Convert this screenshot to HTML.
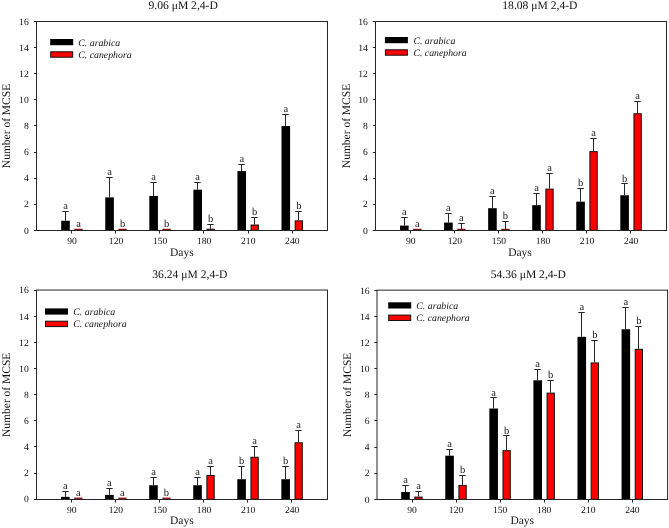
<!DOCTYPE html>
<html><head><meta charset="utf-8"><style>
html,body{margin:0;padding:0;background:#fff;}
svg{display:block;will-change:transform;}
text{font-family:"Liberation Serif", serif;fill:#111;text-rendering:geometricPrecision;}
</style></head><body>
<svg width="669" height="528" viewBox="0 0 669 528">
<rect width="669" height="528" fill="#fff"/>
<rect x="61.20" y="220.74" width="8.6" height="9.66" fill="#000"/>
<path d="M65.50 220.74V211.50M62.30 211.50H68.70" stroke="#262626" stroke-width="1" fill="none"/>
<text x="65.50" y="209.45" font-size="10.5" text-anchor="middle">a</text>
<rect x="74.35" y="228.80" width="8.3" height="1.3" fill="#8a0000"/>
<text x="78.50" y="227.35" font-size="10.5" text-anchor="middle">a</text>
<rect x="105.26" y="197.36" width="8.6" height="33.04" fill="#000"/>
<path d="M109.50 197.36V177.50M106.30 177.50H112.70" stroke="#262626" stroke-width="1" fill="none"/>
<text x="109.56" y="175.11" font-size="10.5" text-anchor="middle">a</text>
<rect x="118.41" y="228.80" width="8.3" height="1.3" fill="#8a0000"/>
<text x="122.56" y="227.35" font-size="10.5" text-anchor="middle">b</text>
<rect x="149.32" y="195.92" width="8.6" height="34.48" fill="#000"/>
<path d="M153.50 195.92V182.50M150.30 182.50H156.70" stroke="#262626" stroke-width="1" fill="none"/>
<text x="153.62" y="179.68" font-size="10.5" text-anchor="middle">a</text>
<rect x="162.47" y="228.80" width="8.3" height="1.3" fill="#8a0000"/>
<text x="166.62" y="227.35" font-size="10.5" text-anchor="middle">b</text>
<rect x="193.38" y="189.65" width="8.6" height="40.75" fill="#000"/>
<path d="M197.50 189.65V182.50M194.30 182.50H200.70" stroke="#262626" stroke-width="1" fill="none"/>
<text x="197.68" y="180.46" font-size="10.5" text-anchor="middle">a</text>
<rect x="207.03" y="229.20" width="7.300000000000001" height="1.20" fill="#f00" stroke="#111" stroke-width="1"/>
<path d="M210.50 228.70V224.50M207.30 224.50H213.70" stroke="#262626" stroke-width="1" fill="none"/>
<text x="210.68" y="221.86" font-size="10.5" text-anchor="middle">b</text>
<rect x="237.44" y="171.11" width="8.6" height="59.29" fill="#000"/>
<path d="M241.50 171.11V164.50M238.30 164.50H244.70" stroke="#262626" stroke-width="1" fill="none"/>
<text x="241.74" y="162.05" font-size="10.5" text-anchor="middle">a</text>
<rect x="251.09" y="225.02" width="7.300000000000001" height="5.38" fill="#f00" stroke="#111" stroke-width="1"/>
<path d="M254.50 224.52V217.50M251.30 217.50H257.70" stroke="#262626" stroke-width="1" fill="none"/>
<text x="254.74" y="214.94" font-size="10.5" text-anchor="middle">b</text>
<rect x="281.50" y="126.05" width="8.6" height="104.35" fill="#000"/>
<path d="M285.50 126.05V114.50M282.30 114.50H288.70" stroke="#262626" stroke-width="1" fill="none"/>
<text x="285.80" y="111.90" font-size="10.5" text-anchor="middle">a</text>
<rect x="295.15" y="220.84" width="7.300000000000001" height="9.56" fill="#f00" stroke="#111" stroke-width="1"/>
<path d="M298.50 220.34V211.50M295.30 211.50H301.70" stroke="#262626" stroke-width="1" fill="none"/>
<text x="298.80" y="209.06" font-size="10.5" text-anchor="middle">b</text>
<rect x="36.5" y="21.5" width="291.0" height="209.0" fill="none" stroke="#262626" stroke-width="1"/>
<path d="M33.9 230.5H36.5" stroke="#262626" stroke-width="1"/>
<text x="28.70" y="233.60" font-size="9.6" text-anchor="end">0</text>
<path d="M33.9 204.5H36.5" stroke="#262626" stroke-width="1"/>
<text x="28.70" y="207.48" font-size="9.6" text-anchor="end">2</text>
<path d="M33.9 178.5H36.5" stroke="#262626" stroke-width="1"/>
<text x="28.70" y="181.36" font-size="9.6" text-anchor="end">4</text>
<path d="M33.9 152.5H36.5" stroke="#262626" stroke-width="1"/>
<text x="28.70" y="155.24" font-size="9.6" text-anchor="end">6</text>
<path d="M33.9 125.5H36.5" stroke="#262626" stroke-width="1"/>
<text x="28.70" y="129.12" font-size="9.6" text-anchor="end">8</text>
<path d="M33.9 99.5H36.5" stroke="#262626" stroke-width="1"/>
<text x="28.70" y="103.00" font-size="9.6" text-anchor="end">10</text>
<path d="M33.9 73.5H36.5" stroke="#262626" stroke-width="1"/>
<text x="28.70" y="76.88" font-size="9.6" text-anchor="end">12</text>
<path d="M33.9 47.5H36.5" stroke="#262626" stroke-width="1"/>
<text x="28.70" y="50.76" font-size="9.6" text-anchor="end">14</text>
<path d="M33.9 21.5H36.5" stroke="#262626" stroke-width="1"/>
<text x="28.70" y="24.64" font-size="9.6" text-anchor="end">16</text>
<path d="M71.5 230.5V233.5" stroke="#262626" stroke-width="1"/>
<text x="72.00" y="243.80" font-size="9.6" text-anchor="middle">90</text>
<path d="M115.5 230.5V233.5" stroke="#262626" stroke-width="1"/>
<text x="116.06" y="243.80" font-size="9.6" text-anchor="middle">120</text>
<path d="M159.5 230.5V233.5" stroke="#262626" stroke-width="1"/>
<text x="160.12" y="243.80" font-size="9.6" text-anchor="middle">150</text>
<path d="M203.5 230.5V233.5" stroke="#262626" stroke-width="1"/>
<text x="204.18" y="243.80" font-size="9.6" text-anchor="middle">180</text>
<path d="M248.5 230.5V233.5" stroke="#262626" stroke-width="1"/>
<text x="248.24" y="243.80" font-size="9.6" text-anchor="middle">210</text>
<path d="M292.5 230.5V233.5" stroke="#262626" stroke-width="1"/>
<text x="292.30" y="243.80" font-size="9.6" text-anchor="middle">240</text>
<text x="148.5" y="9.3" font-size="11.6">9.06 &#956;M 2,4-D</text>
<text x="170.0" y="255.6" font-size="11.5">Days</text>
<text transform="translate(10.2,126.00) rotate(-90)" font-size="11.5" text-anchor="middle">Number of MCSE</text>
<rect x="50.2" y="39.0" width="23" height="6.2" fill="#000"/>
<rect x="50.7" y="51.8" width="22" height="5.4" fill="#f00" stroke="#111" stroke-width="1"/>
<text x="78.3" y="45.60" font-size="9.8" font-style="italic">C. arabica</text>
<text x="78.3" y="58.00" font-size="9.8" font-style="italic">C. canephora</text>
<rect x="400.05" y="225.57" width="8.6" height="4.83" fill="#000"/>
<path d="M404.50 225.57V217.50M401.30 217.50H407.70" stroke="#262626" stroke-width="1" fill="none"/>
<text x="404.35" y="215.07" font-size="10.5" text-anchor="middle">a</text>
<rect x="413.20" y="228.80" width="8.3" height="1.3" fill="#8a0000"/>
<text x="417.35" y="227.35" font-size="10.5" text-anchor="middle">a</text>
<rect x="444.10" y="222.56" width="8.6" height="7.84" fill="#000"/>
<path d="M448.50 222.56V213.50M445.30 213.50H451.70" stroke="#262626" stroke-width="1" fill="none"/>
<text x="448.40" y="211.02" font-size="10.5" text-anchor="middle">a</text>
<rect x="457.25" y="228.80" width="8.3" height="1.3" fill="#8a0000"/>
<path d="M461.50 229.36V223.50M458.30 223.50H464.70" stroke="#262626" stroke-width="1" fill="none"/>
<text x="461.40" y="221.34" font-size="10.5" text-anchor="middle">a</text>
<rect x="488.15" y="208.20" width="8.6" height="22.20" fill="#000"/>
<path d="M492.50 208.20V196.50M489.30 196.50H495.70" stroke="#262626" stroke-width="1" fill="none"/>
<text x="492.45" y="194.31" font-size="10.5" text-anchor="middle">a</text>
<rect x="501.30" y="228.80" width="8.3" height="1.3" fill="#8a0000"/>
<path d="M505.50 229.75V221.50M502.30 221.50H508.70" stroke="#262626" stroke-width="1" fill="none"/>
<text x="505.45" y="218.99" font-size="10.5" text-anchor="middle">b</text>
<rect x="532.20" y="205.19" width="8.6" height="25.21" fill="#000"/>
<path d="M536.50 205.19V193.50M533.30 193.50H539.70" stroke="#262626" stroke-width="1" fill="none"/>
<text x="536.50" y="191.43" font-size="10.5" text-anchor="middle">a</text>
<rect x="545.85" y="189.11" width="7.300000000000001" height="41.29" fill="#f00" stroke="#111" stroke-width="1"/>
<path d="M549.50 188.61V173.50M546.30 173.50H552.70" stroke="#262626" stroke-width="1" fill="none"/>
<text x="549.50" y="171.19" font-size="10.5" text-anchor="middle">a</text>
<rect x="576.25" y="201.67" width="8.6" height="28.73" fill="#000"/>
<path d="M580.50 201.67V188.50M577.30 188.50H583.70" stroke="#262626" stroke-width="1" fill="none"/>
<text x="580.55" y="186.08" font-size="10.5" text-anchor="middle">b</text>
<rect x="589.90" y="151.63" width="7.300000000000001" height="78.77" fill="#f00" stroke="#111" stroke-width="1"/>
<path d="M593.50 151.13V138.50M590.30 138.50H596.70" stroke="#262626" stroke-width="1" fill="none"/>
<text x="593.55" y="136.19" font-size="10.5" text-anchor="middle">a</text>
<rect x="620.30" y="195.27" width="8.6" height="35.13" fill="#000"/>
<path d="M624.50 195.27V183.50M621.30 183.50H627.70" stroke="#262626" stroke-width="1" fill="none"/>
<text x="624.60" y="181.51" font-size="10.5" text-anchor="middle">b</text>
<rect x="633.95" y="113.75" width="7.300000000000001" height="116.65" fill="#f00" stroke="#111" stroke-width="1"/>
<path d="M637.50 113.25V101.50M634.30 101.50H640.70" stroke="#262626" stroke-width="1" fill="none"/>
<text x="637.60" y="98.97" font-size="10.5" text-anchor="middle">a</text>
<rect x="375.5" y="21.5" width="291.0" height="209.0" fill="none" stroke="#262626" stroke-width="1"/>
<path d="M372.9 230.5H375.5" stroke="#262626" stroke-width="1"/>
<text x="367.80" y="233.60" font-size="9.6" text-anchor="end">0</text>
<path d="M372.9 204.5H375.5" stroke="#262626" stroke-width="1"/>
<text x="367.80" y="207.48" font-size="9.6" text-anchor="end">2</text>
<path d="M372.9 178.5H375.5" stroke="#262626" stroke-width="1"/>
<text x="367.80" y="181.36" font-size="9.6" text-anchor="end">4</text>
<path d="M372.9 152.5H375.5" stroke="#262626" stroke-width="1"/>
<text x="367.80" y="155.24" font-size="9.6" text-anchor="end">6</text>
<path d="M372.9 125.5H375.5" stroke="#262626" stroke-width="1"/>
<text x="367.80" y="129.12" font-size="9.6" text-anchor="end">8</text>
<path d="M372.9 99.5H375.5" stroke="#262626" stroke-width="1"/>
<text x="367.80" y="103.00" font-size="9.6" text-anchor="end">10</text>
<path d="M372.9 73.5H375.5" stroke="#262626" stroke-width="1"/>
<text x="367.80" y="76.88" font-size="9.6" text-anchor="end">12</text>
<path d="M372.9 47.5H375.5" stroke="#262626" stroke-width="1"/>
<text x="367.80" y="50.76" font-size="9.6" text-anchor="end">14</text>
<path d="M372.9 21.5H375.5" stroke="#262626" stroke-width="1"/>
<text x="367.80" y="24.64" font-size="9.6" text-anchor="end">16</text>
<path d="M410.5 230.5V233.5" stroke="#262626" stroke-width="1"/>
<text x="410.85" y="243.80" font-size="9.6" text-anchor="middle">90</text>
<path d="M454.5 230.5V233.5" stroke="#262626" stroke-width="1"/>
<text x="454.90" y="243.80" font-size="9.6" text-anchor="middle">120</text>
<path d="M498.5 230.5V233.5" stroke="#262626" stroke-width="1"/>
<text x="498.95" y="243.80" font-size="9.6" text-anchor="middle">150</text>
<path d="M542.5 230.5V233.5" stroke="#262626" stroke-width="1"/>
<text x="543.00" y="243.80" font-size="9.6" text-anchor="middle">180</text>
<path d="M586.5 230.5V233.5" stroke="#262626" stroke-width="1"/>
<text x="587.05" y="243.80" font-size="9.6" text-anchor="middle">210</text>
<path d="M630.5 230.5V233.5" stroke="#262626" stroke-width="1"/>
<text x="631.10" y="243.80" font-size="9.6" text-anchor="middle">240</text>
<text x="502.3" y="9.4" font-size="11.6">18.08 &#956;M 2,4-D</text>
<text x="508.2" y="255.7" font-size="11.5">Days</text>
<text transform="translate(349.9,126.00) rotate(-90)" font-size="11.5" text-anchor="middle">Number of MCSE</text>
<rect x="384.9" y="37.0" width="23" height="6.2" fill="#000"/>
<rect x="385.4" y="49.8" width="22" height="5.4" fill="#f00" stroke="#111" stroke-width="1"/>
<text x="413.4" y="43.60" font-size="9.8" font-style="italic">C. arabica</text>
<text x="413.4" y="56.00" font-size="9.8" font-style="italic">C. canephora</text>
<rect x="61.05" y="496.85" width="8.6" height="2.35" fill="#000"/>
<path d="M65.50 496.85V491.50M62.30 491.50H68.70" stroke="#262626" stroke-width="1" fill="none"/>
<text x="65.35" y="489.09" font-size="10.5" text-anchor="middle">a</text>
<rect x="74.20" y="497.60" width="8.3" height="1.3" fill="#8a0000"/>
<text x="78.35" y="496.28" font-size="10.5" text-anchor="middle">a</text>
<rect x="105.11" y="494.89" width="8.6" height="4.31" fill="#000"/>
<path d="M109.50 494.89V488.50M106.30 488.50H112.70" stroke="#262626" stroke-width="1" fill="none"/>
<text x="109.41" y="486.35" font-size="10.5" text-anchor="middle">a</text>
<rect x="118.26" y="497.60" width="8.3" height="1.3" fill="#8a0000"/>
<text x="122.41" y="496.28" font-size="10.5" text-anchor="middle">a</text>
<rect x="149.17" y="485.23" width="8.6" height="13.97" fill="#000"/>
<path d="M153.50 485.23V477.50M150.30 477.50H156.70" stroke="#262626" stroke-width="1" fill="none"/>
<text x="153.47" y="475.25" font-size="10.5" text-anchor="middle">a</text>
<rect x="162.32" y="497.60" width="8.3" height="1.3" fill="#8a0000"/>
<text x="166.47" y="496.28" font-size="10.5" text-anchor="middle">b</text>
<rect x="193.23" y="485.23" width="8.6" height="13.97" fill="#000"/>
<path d="M197.50 485.23V477.50M194.30 477.50H200.70" stroke="#262626" stroke-width="1" fill="none"/>
<text x="197.53" y="475.25" font-size="10.5" text-anchor="middle">a</text>
<rect x="206.88" y="475.41" width="7.300000000000001" height="23.79" fill="#f00" stroke="#111" stroke-width="1"/>
<path d="M210.50 474.91V466.50M207.30 466.50H213.70" stroke="#262626" stroke-width="1" fill="none"/>
<text x="210.53" y="463.63" font-size="10.5" text-anchor="middle">a</text>
<rect x="237.29" y="479.22" width="8.6" height="19.98" fill="#000"/>
<path d="M241.50 479.22V466.50M238.30 466.50H244.70" stroke="#262626" stroke-width="1" fill="none"/>
<text x="241.59" y="463.89" font-size="10.5" text-anchor="middle">b</text>
<rect x="250.94" y="457.25" width="7.300000000000001" height="41.95" fill="#f00" stroke="#111" stroke-width="1"/>
<path d="M254.50 456.75V446.50M251.30 446.50H257.70" stroke="#262626" stroke-width="1" fill="none"/>
<text x="254.59" y="444.17" font-size="10.5" text-anchor="middle">a</text>
<rect x="281.35" y="479.22" width="8.6" height="19.98" fill="#000"/>
<path d="M285.50 479.22V466.50M282.30 466.50H288.70" stroke="#262626" stroke-width="1" fill="none"/>
<text x="285.65" y="463.89" font-size="10.5" text-anchor="middle">b</text>
<rect x="295.00" y="442.76" width="7.300000000000001" height="56.44" fill="#f00" stroke="#111" stroke-width="1"/>
<path d="M298.50 442.26V430.50M295.30 430.50H301.70" stroke="#262626" stroke-width="1" fill="none"/>
<text x="298.65" y="428.10" font-size="10.5" text-anchor="middle">a</text>
<rect x="36.5" y="290.05" width="291.0" height="209.45" fill="none" stroke="#262626" stroke-width="1"/>
<path d="M33.9 499.5H36.5" stroke="#262626" stroke-width="1"/>
<text x="28.70" y="502.40" font-size="9.6" text-anchor="end">0</text>
<path d="M33.9 473.5H36.5" stroke="#262626" stroke-width="1"/>
<text x="28.70" y="476.28" font-size="9.6" text-anchor="end">2</text>
<path d="M33.9 446.5H36.5" stroke="#262626" stroke-width="1"/>
<text x="28.70" y="450.16" font-size="9.6" text-anchor="end">4</text>
<path d="M33.9 420.5H36.5" stroke="#262626" stroke-width="1"/>
<text x="28.70" y="424.04" font-size="9.6" text-anchor="end">6</text>
<path d="M33.9 394.5H36.5" stroke="#262626" stroke-width="1"/>
<text x="28.70" y="397.92" font-size="9.6" text-anchor="end">8</text>
<path d="M33.9 368.5H36.5" stroke="#262626" stroke-width="1"/>
<text x="28.70" y="371.80" font-size="9.6" text-anchor="end">10</text>
<path d="M33.9 342.5H36.5" stroke="#262626" stroke-width="1"/>
<text x="28.70" y="345.68" font-size="9.6" text-anchor="end">12</text>
<path d="M33.9 316.5H36.5" stroke="#262626" stroke-width="1"/>
<text x="28.70" y="319.56" font-size="9.6" text-anchor="end">14</text>
<path d="M33.9 290.5H36.5" stroke="#262626" stroke-width="1"/>
<text x="28.70" y="293.44" font-size="9.6" text-anchor="end">16</text>
<path d="M71.5 499.5V502.5" stroke="#262626" stroke-width="1"/>
<text x="71.85" y="512.80" font-size="9.6" text-anchor="middle">90</text>
<path d="M115.5 499.5V502.5" stroke="#262626" stroke-width="1"/>
<text x="115.91" y="512.80" font-size="9.6" text-anchor="middle">120</text>
<path d="M159.5 499.5V502.5" stroke="#262626" stroke-width="1"/>
<text x="159.97" y="512.80" font-size="9.6" text-anchor="middle">150</text>
<path d="M203.5 499.5V502.5" stroke="#262626" stroke-width="1"/>
<text x="204.03" y="512.80" font-size="9.6" text-anchor="middle">180</text>
<path d="M247.5 499.5V502.5" stroke="#262626" stroke-width="1"/>
<text x="248.09" y="512.80" font-size="9.6" text-anchor="middle">210</text>
<path d="M291.5 499.5V502.5" stroke="#262626" stroke-width="1"/>
<text x="292.15" y="512.80" font-size="9.6" text-anchor="middle">240</text>
<text x="152.3" y="278.4" font-size="11.6">36.24 &#956;M 2,4-D</text>
<text x="170.0" y="524.1" font-size="11.5">Days</text>
<text transform="translate(10.3,394.77) rotate(-90)" font-size="11.5" text-anchor="middle">Number of MCSE</text>
<rect x="45.0" y="308.4" width="23" height="6.2" fill="#000"/>
<rect x="45.5" y="321.2" width="22" height="5.4" fill="#f00" stroke="#111" stroke-width="1"/>
<text x="73.3" y="315.00" font-size="9.8" font-style="italic">C. arabica</text>
<text x="73.3" y="327.40" font-size="9.8" font-style="italic">C. canephora</text>
<rect x="401.20" y="491.99" width="8.6" height="7.31" fill="#000"/>
<path d="M405.50 491.99V485.50M402.30 485.50H408.70" stroke="#262626" stroke-width="1" fill="none"/>
<text x="405.50" y="483.19" font-size="10.5" text-anchor="middle">a</text>
<rect x="414.85" y="497.06" width="7.300000000000001" height="2.24" fill="#f00" stroke="#111" stroke-width="1"/>
<path d="M418.50 496.56V491.50M415.30 491.50H421.70" stroke="#262626" stroke-width="1" fill="none"/>
<text x="418.50" y="489.19" font-size="10.5" text-anchor="middle">a</text>
<rect x="445.27" y="455.68" width="8.6" height="43.62" fill="#000"/>
<path d="M449.50 455.68V449.50M446.30 449.50H452.70" stroke="#262626" stroke-width="1" fill="none"/>
<text x="449.57" y="447.14" font-size="10.5" text-anchor="middle">a</text>
<rect x="458.92" y="485.43" width="7.300000000000001" height="13.87" fill="#f00" stroke="#111" stroke-width="1"/>
<path d="M462.50 484.93V475.50M459.30 475.50H465.70" stroke="#262626" stroke-width="1" fill="none"/>
<text x="462.57" y="473.13" font-size="10.5" text-anchor="middle">b</text>
<rect x="489.34" y="408.53" width="8.6" height="90.77" fill="#000"/>
<path d="M493.50 408.53V397.50M490.30 397.50H496.70" stroke="#262626" stroke-width="1" fill="none"/>
<text x="493.64" y="395.55" font-size="10.5" text-anchor="middle">a</text>
<rect x="502.99" y="450.69" width="7.300000000000001" height="48.61" fill="#f00" stroke="#111" stroke-width="1"/>
<path d="M506.50 450.19V435.50M503.30 435.50H509.70" stroke="#262626" stroke-width="1" fill="none"/>
<text x="506.64" y="433.56" font-size="10.5" text-anchor="middle">b</text>
<rect x="533.41" y="380.32" width="8.6" height="118.98" fill="#000"/>
<path d="M537.50 380.32V369.50M534.30 369.50H540.70" stroke="#262626" stroke-width="1" fill="none"/>
<text x="537.71" y="367.08" font-size="10.5" text-anchor="middle">a</text>
<rect x="547.06" y="393.10" width="7.300000000000001" height="106.20" fill="#f00" stroke="#111" stroke-width="1"/>
<path d="M550.50 392.60V380.50M547.30 380.50H553.70" stroke="#262626" stroke-width="1" fill="none"/>
<text x="550.71" y="378.05" font-size="10.5" text-anchor="middle">b</text>
<rect x="577.48" y="336.83" width="8.6" height="162.47" fill="#000"/>
<path d="M581.50 336.83V312.50M578.30 312.50H584.70" stroke="#262626" stroke-width="1" fill="none"/>
<text x="581.78" y="309.75" font-size="10.5" text-anchor="middle">a</text>
<rect x="591.13" y="362.93" width="7.300000000000001" height="136.37" fill="#f00" stroke="#111" stroke-width="1"/>
<path d="M594.50 362.43V340.50M591.30 340.50H597.70" stroke="#262626" stroke-width="1" fill="none"/>
<text x="594.78" y="338.22" font-size="10.5" text-anchor="middle">b</text>
<rect x="621.55" y="329.26" width="8.6" height="170.04" fill="#000"/>
<path d="M625.50 329.26V307.50M622.30 307.50H628.70" stroke="#262626" stroke-width="1" fill="none"/>
<text x="625.85" y="304.66" font-size="10.5" text-anchor="middle">a</text>
<rect x="635.20" y="349.35" width="7.300000000000001" height="149.95" fill="#f00" stroke="#111" stroke-width="1"/>
<path d="M638.50 348.85V326.50M635.30 326.50H641.70" stroke="#262626" stroke-width="1" fill="none"/>
<text x="638.85" y="324.25" font-size="10.5" text-anchor="middle">b</text>
<rect x="377.0" y="290.15" width="290.6" height="209.35000000000002" fill="none" stroke="#262626" stroke-width="1"/>
<path d="M374.4 499.5H377.0" stroke="#262626" stroke-width="1"/>
<text x="369.50" y="502.50" font-size="9.6" text-anchor="end">0</text>
<path d="M374.4 473.5H377.0" stroke="#262626" stroke-width="1"/>
<text x="369.50" y="476.38" font-size="9.6" text-anchor="end">2</text>
<path d="M374.4 447.5H377.0" stroke="#262626" stroke-width="1"/>
<text x="369.50" y="450.26" font-size="9.6" text-anchor="end">4</text>
<path d="M374.4 420.5H377.0" stroke="#262626" stroke-width="1"/>
<text x="369.50" y="424.14" font-size="9.6" text-anchor="end">6</text>
<path d="M374.4 394.5H377.0" stroke="#262626" stroke-width="1"/>
<text x="369.50" y="398.02" font-size="9.6" text-anchor="end">8</text>
<path d="M374.4 368.5H377.0" stroke="#262626" stroke-width="1"/>
<text x="369.50" y="371.90" font-size="9.6" text-anchor="end">10</text>
<path d="M374.4 342.5H377.0" stroke="#262626" stroke-width="1"/>
<text x="369.50" y="345.78" font-size="9.6" text-anchor="end">12</text>
<path d="M374.4 316.5H377.0" stroke="#262626" stroke-width="1"/>
<text x="369.50" y="319.66" font-size="9.6" text-anchor="end">14</text>
<path d="M374.4 290.5H377.0" stroke="#262626" stroke-width="1"/>
<text x="369.50" y="293.54" font-size="9.6" text-anchor="end">16</text>
<path d="M412.5 499.5V502.5" stroke="#262626" stroke-width="1"/>
<text x="412.00" y="512.80" font-size="9.6" text-anchor="middle">90</text>
<path d="M456.5 499.5V502.5" stroke="#262626" stroke-width="1"/>
<text x="456.07" y="512.80" font-size="9.6" text-anchor="middle">120</text>
<path d="M500.5 499.5V502.5" stroke="#262626" stroke-width="1"/>
<text x="500.14" y="512.80" font-size="9.6" text-anchor="middle">150</text>
<path d="M544.5 499.5V502.5" stroke="#262626" stroke-width="1"/>
<text x="544.21" y="512.80" font-size="9.6" text-anchor="middle">180</text>
<path d="M588.5 499.5V502.5" stroke="#262626" stroke-width="1"/>
<text x="588.28" y="512.80" font-size="9.6" text-anchor="middle">210</text>
<path d="M632.5 499.5V502.5" stroke="#262626" stroke-width="1"/>
<text x="632.35" y="512.80" font-size="9.6" text-anchor="middle">240</text>
<text x="490.7" y="278.4" font-size="11.6">54.36 &#956;M 2,4-D</text>
<text x="510.4" y="523.6" font-size="11.5">Days</text>
<text transform="translate(350.9,394.82) rotate(-90)" font-size="11.5" text-anchor="middle">Number of MCSE</text>
<rect x="388.2" y="302.3" width="23" height="6.2" fill="#000"/>
<rect x="388.7" y="315.1" width="22" height="5.4" fill="#f00" stroke="#111" stroke-width="1"/>
<text x="416.3" y="308.90" font-size="9.8" font-style="italic">C. arabica</text>
<text x="416.3" y="321.30" font-size="9.8" font-style="italic">C. canephora</text>
</svg>
</body></html>
